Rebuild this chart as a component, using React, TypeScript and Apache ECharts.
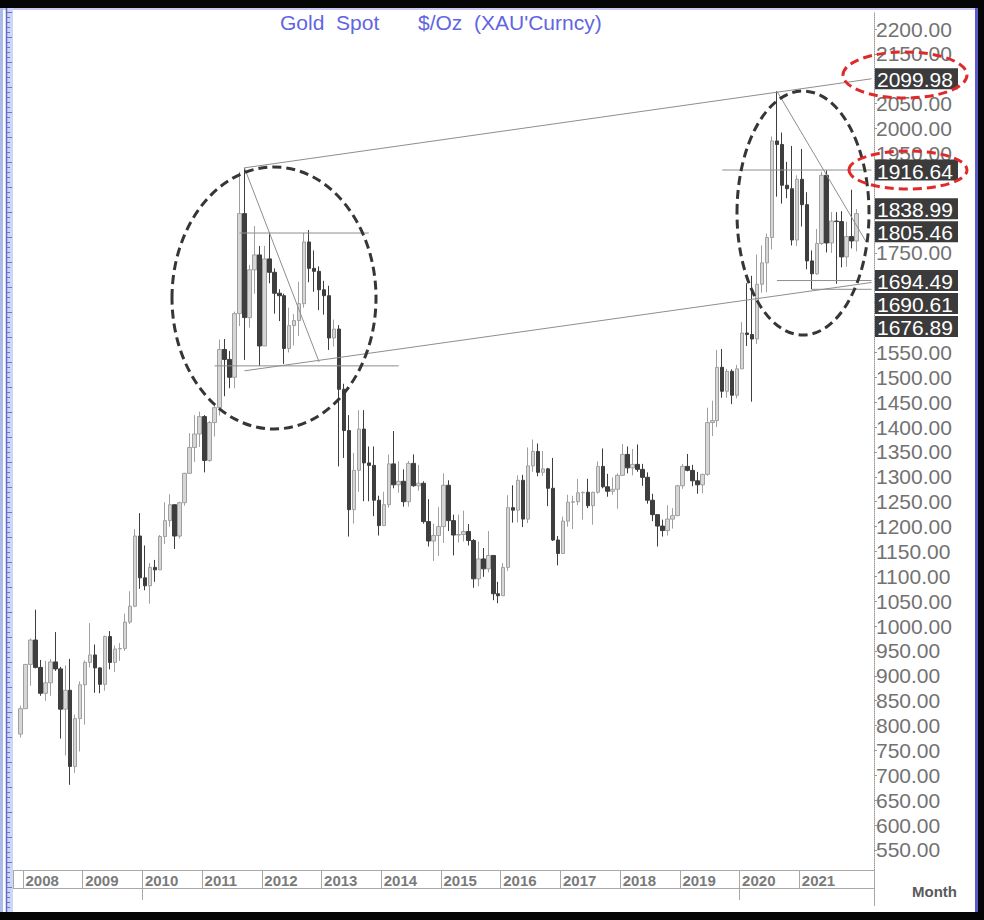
import React, { useEffect, useRef } from 'react';
import * as echarts from 'echarts';

// Monthly OHLC, each item: [open, close, low, high]; null = no bar
const ohlc2007 = [null, [783, 834, 776, 840]]; // Nov, Dec 2007
const ohlc2008 = [[834, 923, 834, 924], [923, 972, 880, 975], [972, 917, 915, 1033], [917, 865, 860, 932], [865, 886, 850, 930], [886, 928, 860, 934], [928, 914, 910, 988], [914, 833, 774, 918], [833, 871, 740, 921], [871, 718, 681, 934], [718, 814, 705, 822], [814, 882, 748, 889]];
const ohlc2009 = [[882, 927, 802, 931], [927, 942, 917, 1006], [942, 916, 866, 963], [916, 883, 865, 917], [883, 979, 870, 981], [979, 927, 913, 990], [927, 954, 908, 961], [954, 955, 930, 966], [955, 1008, 950, 1025], [1008, 1040, 1004, 1070], [1040, 1181, 1038, 1195], [1181, 1097, 1075, 1227]];
const ohlc2010 = [[1097, 1081, 1072, 1162], [1081, 1118, 1045, 1127], [1118, 1113, 1089, 1133], [1113, 1180, 1113, 1183], [1180, 1212, 1165, 1249], [1212, 1244, 1200, 1265], [1244, 1181, 1155, 1244], [1181, 1248, 1176, 1250], [1248, 1307, 1242, 1308], [1307, 1359, 1307, 1388], [1359, 1386, 1330, 1424], [1386, 1421, 1360, 1431]];
const ohlc2011 = [[1421, 1333, 1309, 1424], [1333, 1409, 1330, 1412], [1409, 1439, 1381, 1447], [1439, 1556, 1423, 1576], [1556, 1536, 1462, 1577], [1536, 1500, 1478, 1553], [1500, 1628, 1478, 1632], [1628, 1829, 1603, 1913], [1829, 1620, 1535, 1921], [1620, 1716, 1600, 1726], [1716, 1746, 1668, 1804], [1746, 1563, 1523, 1764]];
const ohlc2012 = [[1563, 1738, 1563, 1764], [1738, 1711, 1689, 1791], [1711, 1669, 1628, 1719], [1669, 1664, 1613, 1677], [1664, 1558, 1527, 1668], [1558, 1604, 1550, 1640], [1604, 1614, 1564, 1627], [1614, 1648, 1583, 1692], [1648, 1772, 1640, 1790], [1772, 1719, 1691, 1796], [1719, 1713, 1672, 1755], [1713, 1676, 1635, 1723]];
const ohlc2013 = [[1676, 1664, 1626, 1694], [1664, 1579, 1555, 1684], [1579, 1597, 1562, 1616], [1597, 1476, 1321, 1605], [1476, 1393, 1338, 1487], [1393, 1234, 1180, 1424], [1234, 1313, 1206, 1348], [1313, 1396, 1270, 1434], [1396, 1328, 1251, 1434], [1328, 1323, 1251, 1361], [1323, 1253, 1221, 1361], [1253, 1202, 1182, 1262]];
const ohlc2014 = [[1202, 1244, 1202, 1270], [1244, 1326, 1238, 1345], [1326, 1284, 1277, 1392], [1284, 1291, 1268, 1331], [1291, 1250, 1240, 1315], [1250, 1327, 1240, 1332], [1327, 1282, 1280, 1345], [1282, 1287, 1272, 1324], [1287, 1210, 1206, 1291], [1210, 1171, 1160, 1255], [1171, 1182, 1131, 1206], [1182, 1200, 1141, 1239]];
const ohlc2015 = [[1200, 1283, 1167, 1307], [1283, 1212, 1191, 1293], [1212, 1183, 1142, 1224], [1183, 1184, 1168, 1224], [1184, 1190, 1170, 1232], [1190, 1172, 1162, 1205], [1172, 1095, 1077, 1175], [1095, 1135, 1080, 1170], [1135, 1115, 1099, 1157], [1115, 1142, 1108, 1191], [1142, 1065, 1052, 1142], [1065, 1061, 1046, 1089]];
const ohlc2016 = [[1061, 1118, 1061, 1127], [1118, 1238, 1111, 1263], [1238, 1233, 1208, 1283], [1233, 1293, 1208, 1303], [1293, 1215, 1199, 1304], [1215, 1322, 1207, 1359], [1322, 1351, 1310, 1375], [1351, 1309, 1301, 1367], [1309, 1316, 1302, 1352], [1316, 1277, 1241, 1318], [1277, 1173, 1171, 1338], [1173, 1146, 1122, 1181]];
const ohlc2017 = [[1146, 1211, 1146, 1220], [1211, 1249, 1200, 1264], [1249, 1250, 1195, 1262], [1250, 1268, 1243, 1296], [1268, 1269, 1214, 1270], [1269, 1242, 1237, 1296], [1242, 1269, 1204, 1270], [1269, 1321, 1266, 1331], [1321, 1280, 1277, 1357], [1280, 1271, 1260, 1306], [1271, 1275, 1264, 1299], [1275, 1303, 1236, 1307]];
const ohlc2018 = [[1303, 1345, 1302, 1366], [1345, 1318, 1307, 1361], [1318, 1325, 1303, 1356], [1325, 1315, 1310, 1365], [1315, 1299, 1282, 1326], [1299, 1253, 1246, 1309], [1253, 1224, 1211, 1266], [1224, 1201, 1160, 1224], [1201, 1192, 1180, 1214], [1192, 1215, 1182, 1243], [1215, 1222, 1196, 1237], [1222, 1282, 1221, 1284]];
const ohlc2019 = [[1282, 1321, 1276, 1326], [1321, 1313, 1311, 1346], [1313, 1292, 1281, 1324], [1292, 1284, 1266, 1310], [1284, 1305, 1267, 1306], [1305, 1409, 1302, 1439], [1409, 1413, 1382, 1453], [1413, 1520, 1400, 1555], [1520, 1472, 1459, 1557], [1472, 1512, 1459, 1517], [1512, 1464, 1446, 1516], [1464, 1517, 1458, 1525]];
const ohlc2020 = [[1517, 1589, 1517, 1611], [1589, 1586, 1563, 1689], [1586, 1577, 1451, 1704], [1577, 1687, 1567, 1747], [1687, 1730, 1670, 1765], [1730, 1781, 1671, 1789], [1781, 1975, 1757, 1984], [1975, 1968, 1863, 2075], [1968, 1886, 1849, 1992], [1886, 1879, 1860, 1933], [1879, 1776, 1765, 1965], [1776, 1898, 1764, 1906]];
const ohlc2021 = [[1898, 1847, 1803, 1959], [1847, 1734, 1717, 1872], [1734, 1708, 1677, 1755], [1708, 1769, 1706, 1798], [1769, 1906, 1766, 1913], [1906, 1770, 1751, 1916], [1770, 1814, 1750, 1832], [1814, 1813, 1688, 1832], [1813, 1742, 1721, 1834], [1742, 1783, 1722, 1813], [1783, 1774, 1759, 1877], [1774, 1829, 1753, 1838]];
const ohlc2022 = [null, null, null]; // Jan-Mar 2022: axis space only

const yearBlocks: [number, number, any[]][] = [
  [2007, 11, ohlc2007], [2008, 1, ohlc2008], [2009, 1, ohlc2009], [2010, 1, ohlc2010],
  [2011, 1, ohlc2011], [2012, 1, ohlc2012], [2013, 1, ohlc2013], [2014, 1, ohlc2014],
  [2015, 1, ohlc2015], [2016, 1, ohlc2016], [2017, 1, ohlc2017], [2018, 1, ohlc2018],
  [2019, 1, ohlc2019], [2020, 1, ohlc2020], [2021, 1, ohlc2021], [2022, 1, ohlc2022],
];

// Labelled years on the date band, and decade marks
const labelYears = [2008, 2009, 2010, 2011, 2012, 2013, 2014, 2015, 2016, 2017, 2018, 2019, 2020, 2021];
const decadeYears = [2010, 2020];

// Price tick labels (right axis)
const priceTicks = [550, 600, 650, 700, 750, 800, 850, 900, 950, 1000, 1050, 1100, 1150, 1200, 1250, 1300, 1350, 1400, 1450, 1500, 1550, 1600, 1650, 1700, 1750, 1800, 1850, 1900, 1950, 2000, 2050, 2100, 2150, 2200];

// Highlighted levels shown in dark boxes on the price axis
const levelValues = [2099.98, 1916.64, 1838.99, 1805.46, 1694.49, 1690.61, 1676.89];

// Drawn trend lines: [month, price] pairs
const trendUpperChannel = [['2011-09', 1921], ['2022-03', 2099.98]];
const trendLowerChannel = [['2011-09', 1513], ['2022-03', 1690.61]];
const trend2011Resistance = [['2011-08', 1790], ['2013-10', 1790]];
const trend2011Support = [['2011-03', 1523], ['2014-04', 1523]];
const trend2011Down = [['2011-09', 1921], ['2012-12', 1531]];
const trend2020Down = [['2020-08', 2075], ['2022-02', 1771]];
const trend2021Top = [['2019-09', 1916.64], ['2022-03', 1916.64]];
const trend2021Base = [['2020-08', 1694.49], ['2022-03', 1694.49]];
const trend2021Low = [['2021-03', 1676.89], ['2022-03', 1676.89]];

const categories: string[] = [];
const candles: any[] = [];
yearBlocks.forEach(([yr, m0, rows]) => {
  rows.forEach((r: any, i: number) => {
    const m = m0 + i;
    categories.push(`${yr}-${m < 10 ? '0' + m : m}`);
    candles.push(r ? r : '-');
  });
});

const isYearStart = (v: string, years: number[]) =>
  v.slice(5) === '01' && years.indexOf(parseInt(v.slice(0, 4), 10)) >= 0;

const AXIS_FONT = "'Liberation Sans', Arial, sans-serif";

export default function App() {
  const ref = useRef<HTMLDivElement>(null);
  useEffect(() => {
    const el = ref.current;
    if (!el) return;
    const chart = echarts.init(el, undefined, { renderer: 'svg' });
    const trendSeries = [trendUpperChannel, trendLowerChannel, trend2011Resistance, trend2011Support, trend2011Down, trend2020Down, trend2021Top, trend2021Base, trend2021Low].map((d) => ({
      type: 'line',
      data: d,
      symbol: 'none',
      silent: true,
      z: 3,
      lineStyle: { color: '#8e8e8e', width: 1 },
    }));
    const yAxisBase = {
      type: 'value',
      position: 'right',
      min: 509.8,
      max: 2234.2,
      splitLine: { show: false },
      axisLine: { show: true, lineStyle: { color: '#9a9a9a', type: 'dotted' } },
      axisTick: { show: true, customValues: priceTicks, length: 3, lineStyle: { color: '#9a9a9a' } },
      axisLabel: {
        customValues: priceTicks,
        formatter: (v: number) => v.toFixed(2),
        margin: 2,
        fontSize: 21,
        color: '#727272',
        fontFamily: AXIS_FONT,
      },
    };
    chart.setOption({
      animation: false,
      backgroundColor: '#ffffff',
      grid: { left: 13, right: 110, top: 12, bottom: 50, containLabel: false },
      xAxis: [
        {
          type: 'category',
          data: categories,
          boundaryGap: true,
          axisLine: { show: true, lineStyle: { color: '#a8a8a8', width: 1 } },
          axisTick: {
            show: true,
            interval: (_i: number, v: string) => isYearStart(v, labelYears),
            length: 18,
            lineStyle: { color: '#a8a8a8' },
          },
          axisLabel: {
            interval: (_i: number, v: string) => isYearStart(v, labelYears),
            formatter: (v: string) => v.slice(0, 4),
            align: 'left',
            margin: 3,
            fontSize: 15,
            fontWeight: 'bold',
            color: '#7a7a7a',
            fontFamily: AXIS_FONT,
          },
          splitLine: { show: false },
        },
        {
          type: 'category',
          data: categories,
          boundaryGap: true,
          position: 'bottom',
          offset: 18,
          axisLine: { show: true, lineStyle: { color: '#a8a8a8', width: 1 } },
          axisTick: {
            show: true,
            interval: (_i: number, v: string) => isYearStart(v, decadeYears),
            length: 12,
            lineStyle: { color: '#a8a8a8' },
          },
          axisLabel: { show: false },
          splitLine: { show: false },
        },
      ],
      yAxis: yAxisBase,
      series: [
        {
          type: 'candlestick',
          data: candles,
          barWidth: 4,
          z: 2,
          itemStyle: {
            color: '#d6d6d6',
            color0: '#3e3e3e',
            borderColor: '#a0a0a0',
            borderColor0: '#3e3e3e',
            borderWidth: 1,
          },
        },
        ...trendSeries,
      ],
    });

    // Stacked level boxes on the price axis
    const boxH = 23;
    let prevY = -1e9;
    const boxes: any[] = [];
    const boxCenters: number[] = [];
    [...levelValues].sort((a, b) => b - a).forEach((v) => {
      const py = chart.convertToPixel({ yAxisIndex: 0 }, v) as number;
      const y = Math.max(py, prevY + boxH);
      prevY = y;
      boxCenters.push(y);
      boxes.push({
        type: 'rect', z: 40,
        shape: { x: 875, y: y - boxH / 2 + 1, width: 83, height: boxH - 2 },
        style: { fill: '#3b3b3b' },
      });
      boxes.push({
        type: 'text', z: 41,
        style: { text: v.toFixed(2), x: 877, y: y + 1, fill: '#ffffff', fontSize: 21, fontFamily: AXIS_FONT, align: 'left', verticalAlign: 'middle' },
      });
    });

    // Axis labels hidden behind the level boxes are not shown
    const visibleTicks = priceTicks.filter((t) => {
      const ty = chart.convertToPixel({ yAxisIndex: 0 }, t) as number;
      return boxCenters.every((c) => Math.abs(ty - c) > boxH / 2 + 4);
    });

    const rulerTicks: any[] = [];
    for (let y = 12; y < 910; y += 5) {
      rulerTicks.push({ type: 'line', z: 5, shape: { x1: 7, y1: y + 0.5, x2: (y - 12) % 25 === 0 ? 12 : 10, y2: y + 0.5 }, style: { stroke: '#6b72d6', lineWidth: 1 } });
    }

    const dashStyle = (color: string) => ({ fill: 'none', stroke: color, lineWidth: 3, lineDash: [9, 5] });

    const elements: any[] = [
      { type: 'rect', z: 5, shape: { x: 0, y: 0, width: 984, height: 8 }, style: { fill: '#050505' } },
      { type: 'rect', z: 5, shape: { x: 0, y: 8, width: 984, height: 2 }, style: { fill: '#c9c9ef' } },
      { type: 'rect', z: 5, shape: { x: 0, y: 912, width: 984, height: 8 }, style: { fill: '#050505' } },
      { type: 'rect', z: 5, shape: { x: 975, y: 8, width: 3, height: 904 }, style: { fill: '#5a5ac8' } },
      { type: 'rect', z: 5, shape: { x: 978, y: 0, width: 6, height: 920 }, style: { fill: '#050505' } },
      { type: 'rect', z: 5, shape: { x: 0, y: 8, width: 3, height: 904 }, style: { fill: '#a9bbe6' } },
      { type: 'rect', z: 5, shape: { x: 6, y: 8, width: 7, height: 904 }, style: { fill: '#cdd7f5' } },
      { type: 'line', z: 5, shape: { x1: 6.5, y1: 8, x2: 6.5, y2: 912 }, style: { stroke: '#5c6cc8', lineWidth: 1.5 } },
      ...rulerTicks,
      { type: 'line', z: 5, shape: { x1: 13.5, y1: 870, x2: 13.5, y2: 888 }, style: { stroke: '#a8a8a8', lineWidth: 1 } },
      { type: 'line', z: 5, shape: { x1: 874.5, y1: 870, x2: 874.5, y2: 906 }, style: { stroke: '#a8a8a8', lineWidth: 1 } },
      { type: 'text', z: 5, style: { text: 'Month', x: 912, y: 891, fill: '#5a5a5a', fontSize: 15, fontWeight: 'bold', fontFamily: AXIS_FONT, align: 'left', verticalAlign: 'middle' } },
      { type: 'text', z: 5, style: { text: 'Gold  Spot', x: 280, y: 22, fill: '#6165e2', fontSize: 21, fontFamily: AXIS_FONT, align: 'left', verticalAlign: 'middle' } },
      { type: 'text', z: 5, style: { text: "$/Oz  (XAU'Curncy)", x: 418, y: 22, fill: '#6165e2', fontSize: 21, fontFamily: AXIS_FONT, align: 'left', verticalAlign: 'middle' } },
      ...boxes,
      { type: 'ellipse', z: 50, shape: { cx: 274, cy: 298, rx: 102, ry: 131 }, style: dashStyle('#363636') },
      { type: 'ellipse', z: 50, shape: { cx: 803, cy: 213, rx: 66, ry: 122 }, style: dashStyle('#363636') },
      { type: 'ellipse', z: 60, shape: { cx: 905, cy: 75, rx: 62, ry: 23 }, style: dashStyle('#e02a2a') },
      { type: 'ellipse', z: 60, shape: { cx: 908, cy: 170, rx: 59, ry: 19 }, style: dashStyle('#e02a2a') },
    ];
    chart.setOption({
      yAxis: { ...yAxisBase, axisLabel: { ...yAxisBase.axisLabel, customValues: visibleTicks } },
      graphic: { elements },
    });
    return () => chart.dispose();
  }, []);
  return (
    <div
      ref={ref}
      style={{ position: 'absolute', left: 0, top: 0, width: 984, height: 920 }}
    />
  );
}
